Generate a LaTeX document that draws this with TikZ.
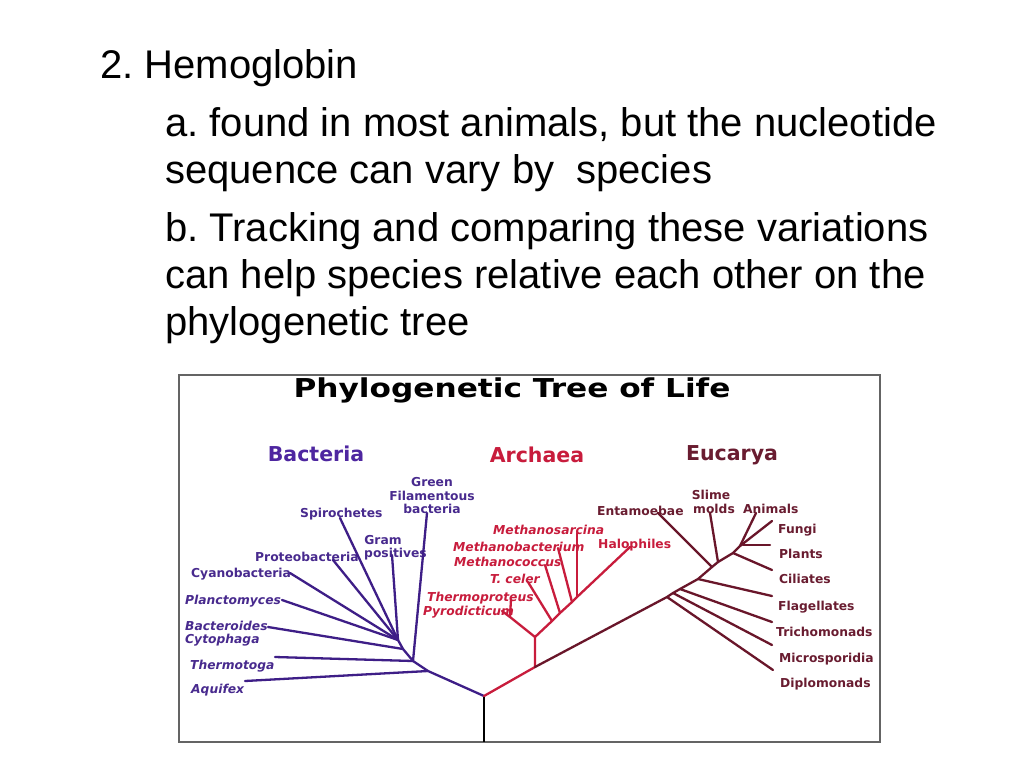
\documentclass[tikz,border=0pt]{standalone}
\usepackage{fontspec}
\setmainfont{Liberation Sans}
\newfontfamily\treefont{DejaVu Sans}
\definecolor{bpurple}{RGB}{62,30,135}
\definecolor{btext}{RGB}{72,42,142}
\definecolor{bhead}{RGB}{78,38,160}
\definecolor{ared}{RGB}{200,28,60}
\definecolor{emaroon}{RGB}{105,22,42}
\definecolor{etext}{RGB}{105,28,48}
\definecolor{framegray}{RGB}{100,100,100}
\frenchspacing
\begin{document}
\begin{tikzpicture}[x=1pt,y=-1pt,
  body/.style={anchor=base west, inner sep=0pt, font=\fontsize{40}{48}\selectfont},
  lab/.style={anchor=base west, inner sep=0pt, font=\treefont\bfseries\fontsize{12.3}{14}\selectfont},
  ilab/.style={anchor=base west, inner sep=0pt, font=\treefont\bfseries\itshape\fontsize{12.3}{14}\selectfont},
  clab/.style={anchor=base, inner sep=0pt, font=\treefont\bfseries\fontsize{12.3}{14}\selectfont},
  hdr/.style={anchor=base, inner sep=0pt, font=\treefont\bfseries\fontsize{20.5}{24}\selectfont},
  bline/.style={draw=bpurple, line width=2.3pt, line cap=round, line join=round},
  aline/.style={draw=ared, line width=2.3pt, line cap=round, line join=round},
  eline/.style={draw=emaroon, line width=2.3pt, line cap=round, line join=round},
  rootline/.style={draw=black, line width=2.3pt}
]
\fill[white] (0,0) rectangle (1024,768);
\useasboundingbox (0,0) rectangle (1024,768);

% slide text
\node[body] (t0) at (100,78) {2. Hemoglobin};
\node[body] (t1) at (165,136) {a. found in most animals, but the nucleotide};
\node[body] (t2) at (165,183) {sequence can vary by\ \ species};
\node[body] (t3) at (165,241) {b. Tracking and comparing these variations};
\node[body] (t4) at (165,288) {can help species relative each other on the};
\node[body] (t5) at (165,335) {phylogenetic tree};

% frame
\draw[framegray, line width=1.5pt] (179,375) rectangle (880,742);
\node[anchor=base, inner sep=0pt] (title) at (512,397)
  {\scalebox{1.2}[1]{\treefont\bfseries\fontsize{26}{30}\selectfont Phylogenetic Tree of Life}};

% headers
\node[hdr, text=bhead] (hB) at (316,461) {Bacteria};
\node[hdr, text=ared] (hA) at (537,462) {Archaea};
\node[hdr, text=etext] (hE) at (732,460) {Eucarya};

% bacteria labels
\node[clab, text=btext] (lGf1) at (432,486) {Green};
\node[clab, text=btext] (lGf2) at (432,500) {Filamentous};
\node[clab, text=btext] (lGf3) at (432,513) {bacteria};
\node[lab, text=btext] (lSp) at (300,517) {Spirochetes};
\node[clab, text=btext] (lGr1) at (383,544) {Gram};
\node[lab, text=btext] (lGr2) at (364,557) {positives};
\node[lab, text=btext] (lPr) at (255,561) {Proteobacteria};
\node[lab, text=btext] (lCy) at (191,577) {Cyanobacteria};
\node[ilab, text=btext] (lPl) at (185,604) {Planctomyces};
\node[ilab, text=btext] (lBa) at (185,630) {Bacteroides};
\node[ilab, text=btext] (lCt) at (185,643) {Cytophaga};
\node[ilab, text=btext] (lTh) at (190,669) {Thermotoga};
\node[ilab, text=btext] (lAq) at (191,693) {Aquifex};

% archaea labels
\node[ilab, text=ared] (lMs) at (493,534) {Methanosarcina};
\node[ilab, text=ared] (lMb) at (453,551) {Methanobacterium};
\node[ilab, text=ared] (lMc) at (454,566) {Methanococcus};
\node[ilab, text=ared] (lTc) at (490,583) {T. celer};
\node[ilab, text=ared] (lTp) at (427,601) {Thermoproteus};
\node[ilab, text=ared] (lPy) at (423,615) {Pyrodicticum};
\node[lab, text=ared] (lHa) at (598,548) {Halophiles};

% eucarya labels
\node[lab, text=etext] (lEn) at (597,515) {Entamoebae};
\node[clab, text=etext] (lSm1) at (711,499) {Slime};
\node[lab, text=etext] (lSm2) at (693,513) {molds};
\node[lab, text=etext] (lAn) at (743,513) {Animals};
\node[lab, text=etext] (lFu) at (778,533) {Fungi};
\node[lab, text=etext] (lPt) at (779,558) {Plants};
\node[lab, text=etext] (lCi) at (779,583) {Ciliates};
\node[lab, text=etext] (lFl) at (778,610) {Flagellates};
\node[lab, text=etext] (lTr) at (776,636) {Trichomonads};
\node[lab, text=etext] (lMi) at (779,662) {Microsporidia};
\node[lab, text=etext] (lDi) at (780,687) {Diplomonads};

% coordinates: root
\coordinate (R) at (484,696);
\coordinate (Rb) at (484,742);
% bacteria
\coordinate (BA) at (428,671);
\coordinate (BT) at (413,661);
\coordinate (BB) at (403,649);
\coordinate (BG) at (398,640);
\coordinate (eAq) at (245,681);
\coordinate (eTh) at (275,657);
\coordinate (eBa) at (268,627);
\coordinate (ePl) at (282,600);
\coordinate (eCy) at (290,573);
\coordinate (ePr) at (333,560);
\coordinate (eSp) at (340,518);
\coordinate (eGr) at (392,555);
\coordinate (eGf) at (427,513);
% archaea
\coordinate (A0) at (535,667);
\coordinate (A1) at (535,637);
\coordinate (AT) at (510,617);
\coordinate (eTp) at (511,599);
\coordinate (ePy) at (502,611);
\coordinate (C1) at (552,621);
\coordinate (C2) at (560,613);
\coordinate (C3) at (572,602);
\coordinate (C4) at (577,597);
\coordinate (eHa) at (630,547);
\coordinate (eTc) at (528,582);
\coordinate (eMc) at (545,565);
\coordinate (eMb) at (558,548);
\coordinate (eMs) at (577,533);
% eucarya
\coordinate (E1) at (667,597);
\coordinate (E2) at (673,593);
\coordinate (E3) at (680,589);
\coordinate (E4) at (698,579);
\coordinate (E5) at (712,567);
\coordinate (E6) at (718,562);
\coordinate (E7) at (733,553);
\coordinate (E8) at (740,546);
\coordinate (E8p) at (743,545);
\coordinate (eDi) at (773,670);
\coordinate (eMi) at (772,645);
\coordinate (eTr) at (772,622);
\coordinate (eFl) at (772,596);
\coordinate (eEn) at (658,513);
\coordinate (eSm) at (710,513);
\coordinate (eCi) at (772,570);
\coordinate (eAn) at (756,513);
\coordinate (eFu) at (772,521);
\coordinate (ePt) at (770,545);

% root
\draw[rootline] (R) -- (Rb);
% bacteria branches
\draw[bline] (R) -- (BA) -- (BT) -- (BB) -- (BG);
\draw[bline] (BA) -- (eAq);
\draw[bline] (BT) -- (eTh);
\draw[bline] (BT) -- (eGf);
\draw[bline] (BB) -- (eBa);
\draw[bline] (BG) -- (ePl);
\draw[bline] (BG) -- (eCy);
\draw[bline] (BG) -- (ePr);
\draw[bline] (BG) -- (eSp);
\draw[bline] (BG) -- (eGr);
% archaea branches
\draw[aline] (R) -- (A0) -- (A1);
\draw[aline] (A1) -- (AT) -- (eTp);
\draw[aline] (AT) -- (ePy);
\draw[aline] (A1) -- (C1) -- (C2) -- (C3) -- (C4) -- (eHa);
\draw[aline] (C1) -- (eTc);
\draw[aline] (C2) -- (eMc);
\draw[aline] (C3) -- (eMb);
\draw[aline] (C4) -- (eMs);
% eucarya branches
\draw[eline] (A0) -- (E1) -- (E2) -- (E3) -- (E4) -- (E5) -- (E6) -- (E7) -- (E8);
\draw[eline] (E1) -- (eDi);
\draw[eline] (E2) -- (eMi);
\draw[eline] (E3) -- (eTr);
\draw[eline] (E4) -- (eFl);
\draw[eline] (E5) -- (eEn);
\draw[eline] (E6) -- (eSm);
\draw[eline] (E7) -- (eCi);
\draw[eline] (E8) -- (eAn);
\draw[eline] (E8) -- (eFu);
\draw[eline] (E8p) -- (ePt);
\end{tikzpicture}
\end{document}
